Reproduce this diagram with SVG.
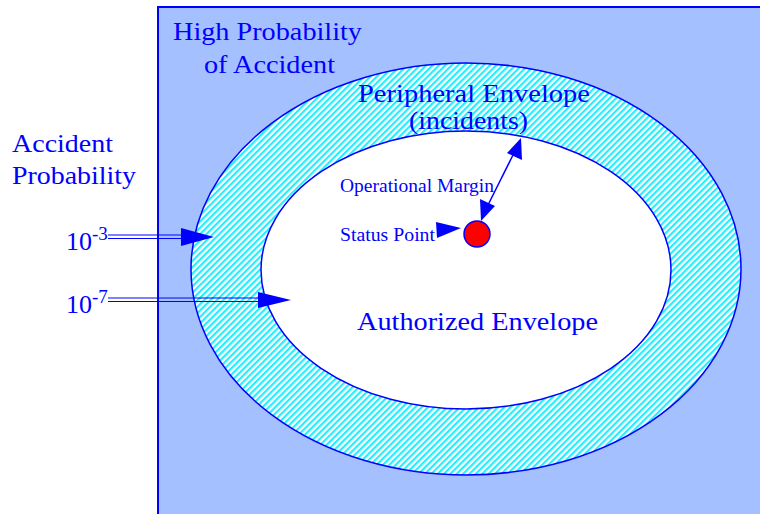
<svg xmlns="http://www.w3.org/2000/svg" width="760" height="514" viewBox="0 0 760 514">
<style>
.t{font-family:"Liberation Serif",serif;fill:#0000ff}
.big{font-size:26px}
.small{font-size:18px}
.ln{stroke:#0000ff;fill:none}
</style>
<defs>
<pattern id="hatch" width="4.5" height="4.5" patternUnits="userSpaceOnUse" patternTransform="rotate(45)">
<rect width="4.5" height="4.5" fill="#ffffff"/>
<rect width="2.2" height="4.5" fill="#22eeff"/>
</pattern>
</defs>
<g id="region">
<rect x="158" y="7" width="610" height="520" fill="#a5c0ff" stroke="#0000ff" stroke-width="2"/>
<text class="t big" x="173" y="40" textLength="189" lengthAdjust="spacingAndGlyphs">High Probability</text>
<text class="t big" x="204" y="73" textLength="131" lengthAdjust="spacingAndGlyphs">of Accident</text>
</g>
<g id="peripheral">
<ellipse cx="466" cy="269" rx="275" ry="206" fill="url(#hatch)" stroke="#0000ff" stroke-width="1.5"/>
<text class="t big" x="358" y="102" textLength="232" lengthAdjust="spacingAndGlyphs">Peripheral Envelope</text>
<text class="t big" x="409" y="129" textLength="119" lengthAdjust="spacingAndGlyphs">(incidents)</text>
</g>
<g id="authorized">
<ellipse cx="466" cy="270" rx="205" ry="139" fill="#ffffff" stroke="#0000ff" stroke-width="1.5"/>
<text class="t big" x="357" y="330" textLength="241" lengthAdjust="spacingAndGlyphs">Authorized Envelope</text>
<text class="t small" x="340" y="192" textLength="154" lengthAdjust="spacingAndGlyphs">Operational Margin</text>
<text class="t small" x="340" y="241" textLength="95" lengthAdjust="spacingAndGlyphs">Status Point</text>
</g>
<g id="status">
<circle cx="477" cy="234" r="13" fill="#ff0000" stroke="#0000ff" stroke-width="1.5"/>
</g>
<g id="labels">
<text class="t big" x="12" y="152" textLength="101" lengthAdjust="spacingAndGlyphs">Accident</text>
<text class="t big" x="12" y="184" textLength="124" lengthAdjust="spacingAndGlyphs">Probability</text>
<text class="t big" x="66" y="250">10<tspan dy="-10" font-size="19">-3</tspan></text>
<text class="t big" x="66" y="313">10<tspan dy="-10" font-size="19">-7</tspan></text>
</g>
<g id="connectors">
<line x1="108" y1="235" x2="184" y2="235" class="ln" stroke-width="1.2"/>
<line x1="108" y1="238.5" x2="184" y2="238.5" class="ln" stroke-width="1.2"/>
<path d="M181,228 L214,237 L181,246 Z" fill="#0000ff"/>
<line x1="108" y1="298" x2="260" y2="298" class="ln" stroke-width="1.2"/>
<line x1="108" y1="301.5" x2="260" y2="301.5" class="ln" stroke-width="1.2"/>
<path d="M258,292 L291,300 L258,308 Z" fill="#0000ff"/>
<path d="M436,222 L461,228 L437,238 Z" fill="#0000ff"/>
<line x1="488" y1="205" x2="514" y2="153" class="ln" stroke-width="1.5"/>
<path d="M481,221 L480,199 L495,206 Z" fill="#0000ff"/>
<path d="M521,138 L522,160 L507,153 Z" fill="#0000ff"/>
</g>
</svg>
